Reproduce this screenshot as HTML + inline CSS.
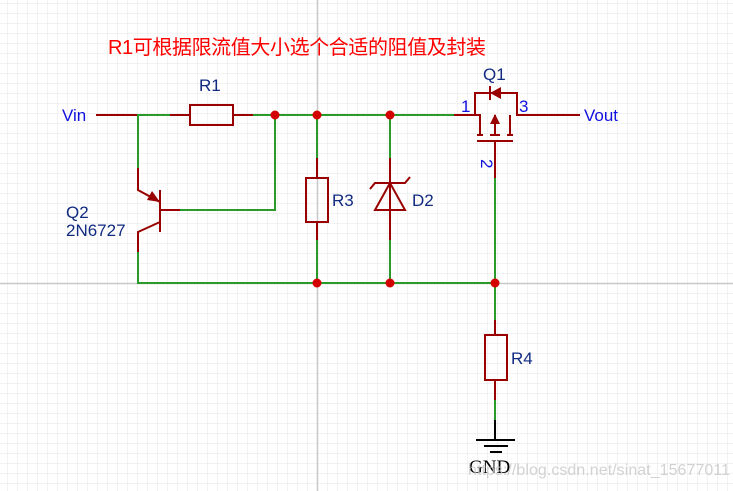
<!DOCTYPE html>
<html><head><meta charset="utf-8"><style>
html,body{margin:0;padding:0;background:#fff;}
svg{display:block;}
</style></head><body>
<svg width="733" height="491" viewBox="0 0 733 491" xmlns="http://www.w3.org/2000/svg">
<defs>
<pattern id="g" width="10" height="10" patternUnits="userSpaceOnUse" x="7" y="3">
<path d="M0 0H10M0 0V10" stroke="#e6e6e6" stroke-width="1" fill="none"/>
</pattern>
</defs>
<rect width="733" height="491" fill="url(#g)"/>
<line x1="317.5" y1="0" x2="317.5" y2="491" stroke="#c8c8c8" stroke-width="1.5"/>
<line x1="0" y1="283.5" x2="733" y2="283.5" stroke="#c8c8c8" stroke-width="1.5"/>

<text x="108" y="54" font-family="Liberation Sans, Noto Sans CJK SC, sans-serif" font-size="20" fill="#ff0000" textLength="378">R1可根据限流值大小选个合适的阻值及封装</text>

<g fill="none" stroke-width="2">
<g stroke="#2a9a2a">
<path d="M137 115H170M253 115H454"/>
<path d="M275 115V210H180"/>
<path d="M138 115V168M138 252V283H495"/>
<path d="M317 115V158M317 240V283"/>
<path d="M390 115V158M390 240V283"/>
<path d="M495 178V320M495 400V420"/>
</g>
<g stroke="#990000">
<path d="M96 115H137M170 115H190M233 115H253"/>
<rect x="190" y="105" width="43" height="20"/>
<path d="M180 210H160M160 190V232"/>
<path d="M138 168V190L160 202M160 222L138 232V252"/>
<path d="M317 158V178M317 222V240"/>
<rect x="306" y="178" width="22" height="44"/>
<path d="M390 158V240"/>
<path d="M375 210L390 183L405 210Z"/>
<path d="M370 189L375 183H405L410 177"/>
<path d="M454 115H480V135"/>
<path d="M475 115V93H517V115H580"/>
<path d="M510 115V135"/>
<path d="M477 135H483M490 135H500M507 135H513M477 141H513"/>
<path d="M495 115V135"/>
<path d="M490 86V100"/>
<path d="M495 141V178M495 320V335M495 380V400"/>
<rect x="485" y="335" width="22" height="45"/>
</g>
<path d="M495 420V440M476 440H515M484 446H508M490 452H502" stroke="#000"/>
</g>
<path d="M160 202L147 200L152 191Z" fill="#990000"/>
<path d="M490 93L501 87V99Z" fill="#990000"/>
<path d="M495 114L490 124H500Z" fill="#990000"/>

<g fill="#d40000">
<circle cx="275" cy="115" r="4.5"/><circle cx="317" cy="115" r="4.5"/><circle cx="390" cy="115" r="4.5"/>
<circle cx="317" cy="283" r="4.5"/><circle cx="390" cy="283" r="4.5"/><circle cx="495" cy="283" r="4.5"/>
</g>

<g font-family="Liberation Sans, sans-serif" font-size="17">
<text x="62" y="121" fill="#1010e0">Vin</text>
<text x="584" y="121" fill="#1010e0">Vout</text>
<text x="199" y="91" fill="#102a80">R1</text>
<text x="483" y="80" fill="#102a80">Q1</text>
<text x="332" y="206" fill="#102a80">R3</text>
<text x="412" y="206" fill="#102a80">D2</text>
<text x="511" y="364" fill="#102a80">R4</text>
<text x="66" y="218" fill="#102a80">Q2</text>
<text x="66" y="236" fill="#102a80">2N6727</text>
<text x="461" y="112" fill="#1010e0">1</text>
<text x="519" y="112" fill="#1010e0">3</text>
<text x="0" y="0" fill="#1010e0" transform="translate(481,159) rotate(90)">2</text>
</g>
<text x="469" y="473" font-family="Liberation Serif, serif" font-size="19" fill="#000">GND</text>
<text x="468" y="475" font-family="Liberation Sans, sans-serif" font-size="16" fill="#c8c8c8" opacity="0.8" textLength="262">https://blog.csdn.net/sinat_15677011</text>
</svg>
</body></html>
